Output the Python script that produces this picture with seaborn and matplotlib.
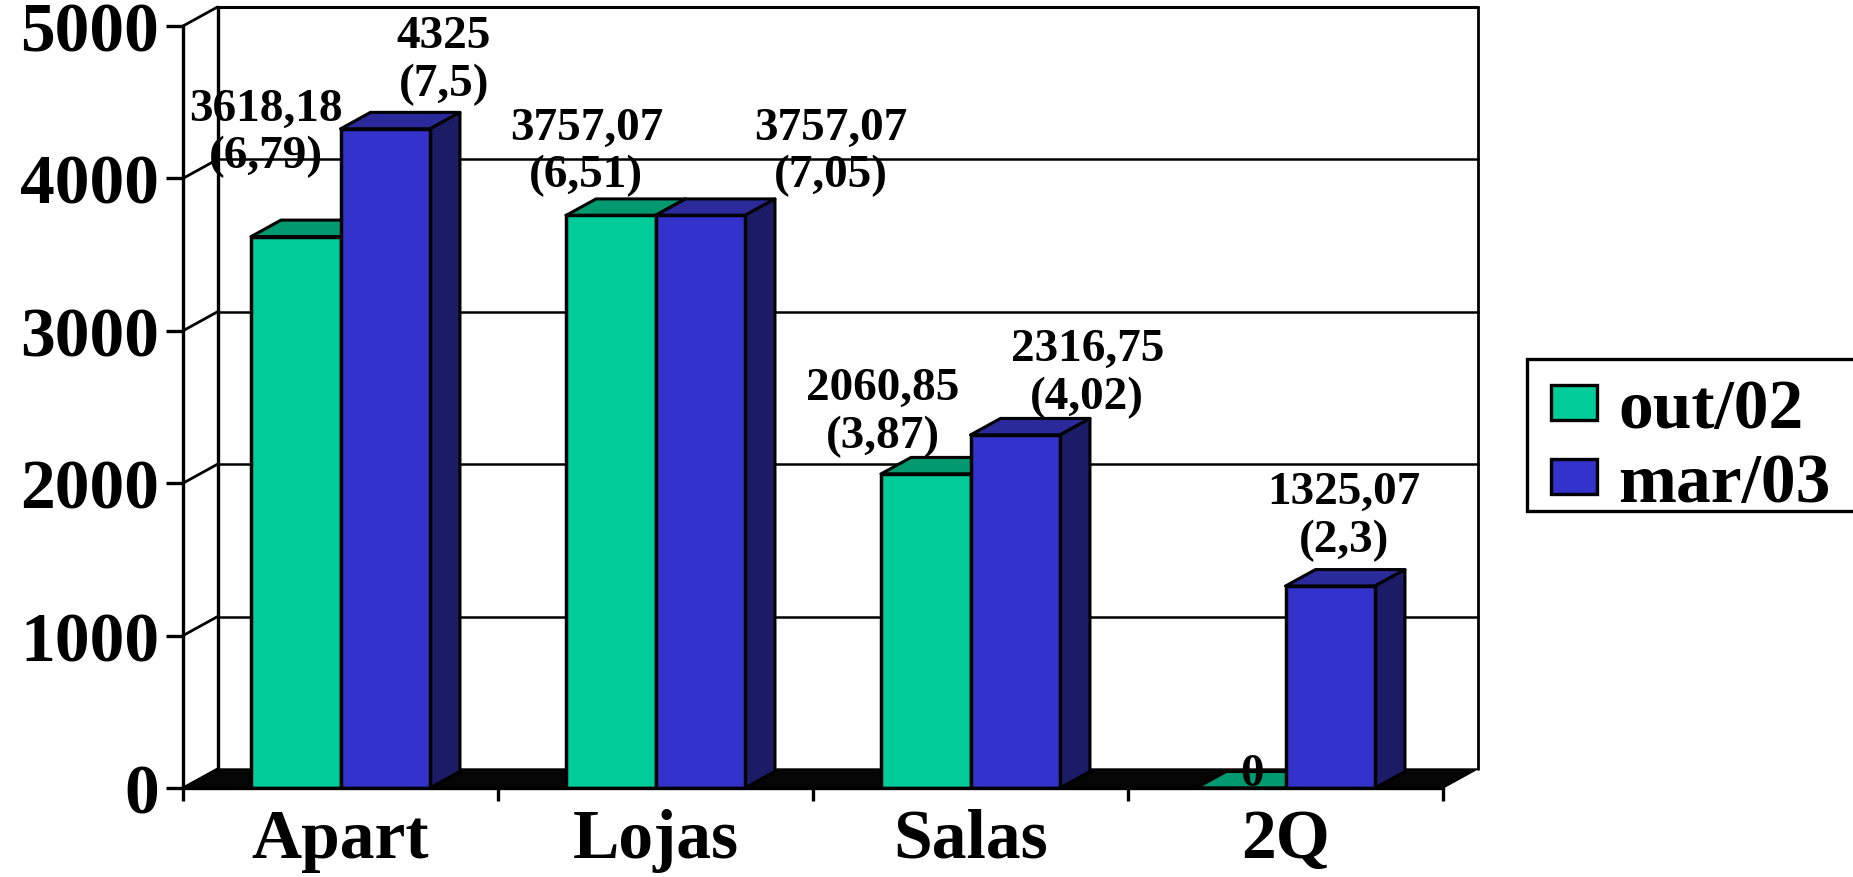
import matplotlib
matplotlib.use("Agg")
import matplotlib.pyplot as plt
import pandas as pd
import seaborn as sns
from matplotlib.patches import Polygon, Rectangle

categories = ["Apart", "Lojas", "Salas", "2Q"]
series_names = ["out/02", "mar/03"]
out_02 = [3618.18, 3757.07, 2060.85, 0]
mar_03 = [4325, 3757.07, 2316.75, 1325.07]
out_labels = ["3618,18\n(6,79)", "3757,07\n(6,51)", "2060,85\n(3,87)", "0"]
mar_labels = ["4325\n(7,5)", "3757,07\n(7,05)", "2316,75\n(4,02)", "1325,07\n(2,3)"]
y_ticks = [0, 1000, 2000, 3000, 4000, 5000]

W, H, DPI = 1853, 878, 100
FONT = "Liberation Serif"
px = 72 / DPI
C_FRONT = ["#00CC99", "#3333CC"]
C_TOP = ["#009970", "#2A2A9A"]
C_SIDE = ["#006B4F", "#1C1C66"]
INK = "#000000"
BIG = 50
SMALL = 34

# label offsets from each bar's top centre, in pixels
out_off = [(-29.5, 104), (-24.5, 64), (-43, 62), (11, 14)]
mar_off = [(58.5, 69), (130.5, 64), (72, 62), (14, 70)]

df = pd.DataFrame({
    "cat": categories * 2,
    "serie": [series_names[0]] * 4 + [series_names[1]] * 4,
    "valor": out_02 + mar_03,
})

sns.set_theme(style="white")
plt.rcParams["font.family"] = [FONT, "DejaVu Serif"]
plt.rcParams["font.weight"] = "bold"
plt.rcParams["text.color"] = INK
plt.rcParams["xtick.labelcolor"] = INK
plt.rcParams["ytick.labelcolor"] = INK

fig = plt.figure(figsize=(W / DPI, H / DPI), dpi=DPI, facecolor="white")
ax = fig.add_axes([183 / W, 1 - 789 / H, 1260 / W, 762 / H])
sns.barplot(data=df, x="cat", y="valor", hue="serie", order=categories,
            hue_order=series_names, palette=C_FRONT, width=0.568, gap=0,
            saturation=1, edgecolor=INK, linewidth=2.5, errorbar=None, ax=ax)

ax.set_xlim(-0.5, 3.5)
ax.set_ylim(0, 5000)
dx = 34.5 / 315
dy = 19 / 762 * 5000
bdx = 30 / 315
bdy = 16.5 / 762 * 5000

# back wall, side wall, floor
xl, xr = -0.5, 3.5
ax.add_patch(Polygon([(xl, 0), (xr, 0), (xr + dx, dy), (xl + dx, dy)], closed=True,
                     facecolor="#050505", edgecolor=INK, lw=1, zorder=0.8, clip_on=False))
for v in y_ticks:
    lw = 2.2 if v in (0, 5000) else 1.8
    ax.plot([xl, xl + dx], [v, v + dy], color=INK, lw=2.0, zorder=0.7, clip_on=False,
            scalex=False, scaley=False)
    if v > 0:
        ax.plot([xl + dx, xr + dx], [v + dy, v + dy], color=INK, lw=lw, zorder=0.7,
                clip_on=False, scalex=False, scaley=False)
ax.plot([xl + dx, xl + dx], [dy, 5000 + dy], color=INK, lw=2.4, zorder=0.7, clip_on=False,
        scalex=False, scaley=False)
ax.plot([xr + dx, xr + dx], [dy, 5000 + dy], color=INK, lw=2.0, zorder=0.7, clip_on=False,
        scalex=False, scaley=False)

# 3D faces of each bar, built from the bars seaborn drew
n = len(categories)
for s, cont in enumerate(ax.containers):
    for bar in cont:
        x0, w, h = bar.get_x(), bar.get_width(), bar.get_height()
        x1 = x0 + w
        bar.set_zorder(3 + s)
        ax.add_patch(Polygon([(x0, h), (x1, h), (x1 + bdx, h + bdy), (x0 + bdx, h + bdy)],
                             closed=True, facecolor=C_TOP[s], edgecolor=INK, lw=2.2,
                             zorder=2 + s, clip_on=False, joinstyle="round"))
        if h > 0:
            ax.add_patch(Polygon([(x1, 0), (x1 + bdx, bdy), (x1 + bdx, h + bdy), (x1, h)],
                                 closed=True, facecolor=C_SIDE[s], edgecolor=INK, lw=2.2,
                                 zorder=2 + s, clip_on=False, joinstyle="round"))

# data labels
for cont, labels, offs in zip(ax.containers, [out_labels, mar_labels], [out_off, mar_off]):
    for bar, lab, (ox, oy) in zip(cont, labels, offs):
        ax.annotate(lab, xy=(bar.get_x() + bar.get_width() / 2, bar.get_height()),
                    xytext=(ox, oy), textcoords="offset pixels", ha="center", va="center",
                    fontsize=SMALL, fontweight="bold", family=FONT, color=INK, zorder=10,
                    linespacing=1.17, annotation_clip=False)

# axes, ticks
sns.despine(ax=ax, top=True, right=True)
for sp in ("left", "bottom"):
    ax.spines[sp].set_color(INK)
    ax.spines[sp].set_linewidth(2.4)
    ax.spines[sp].set_zorder(6)
ax.set_xlabel("")
ax.set_ylabel("")
ax.set_yticks(y_ticks)
ax.set_yticklabels([str(v) for v in y_ticks], fontsize=BIG, fontweight="bold", family=FONT)
ax.tick_params(axis="y", length=17 * px, width=2.4, color=INK, pad=7 * px, left=True)
ax.set_xticks([-0.5, 0.5, 1.5, 2.5, 3.5])
ax.set_xticklabels([])
ax.set_xticks(range(n), minor=True)
ax.set_xticklabels(categories, minor=True, fontsize=BIG, fontweight="bold", family=FONT)
ax.tick_params(axis="x", which="major", length=13 * px, width=2.4, color=INK, bottom=True)
ax.tick_params(axis="x", which="minor", length=0, pad=20 * px)

# legend: entries from the seaborn bars, frame running off the right edge as in the reference
fig.add_artist(Rectangle((1527 / W, 1 - 512 / H), 340 / W, 152 / H, transform=fig.transFigure,
                         facecolor="white", edgecolor=INK, lw=2.4, zorder=-1))
handles, labels = ax.get_legend_handles_labels()
em = BIG / px
leg = ax.legend(handles, labels, loc="upper left", bbox_to_anchor=(1551 / W, 1 - 379 / H),
                bbox_transform=fig.transFigure, borderaxespad=0, frameon=False, title=None,
                handlelength=46 / em, handleheight=28 / em, handletextpad=21 / em,
                borderpad=0, labelspacing=10 / em,
                prop={"family": FONT, "weight": "bold", "size": BIG})
leg.set_zorder(20)
for p in leg.get_patches():
    p.set_edgecolor(INK)
    p.set_linewidth(2.4)

fig.savefig("out.png", dpi=DPI, facecolor="white")
